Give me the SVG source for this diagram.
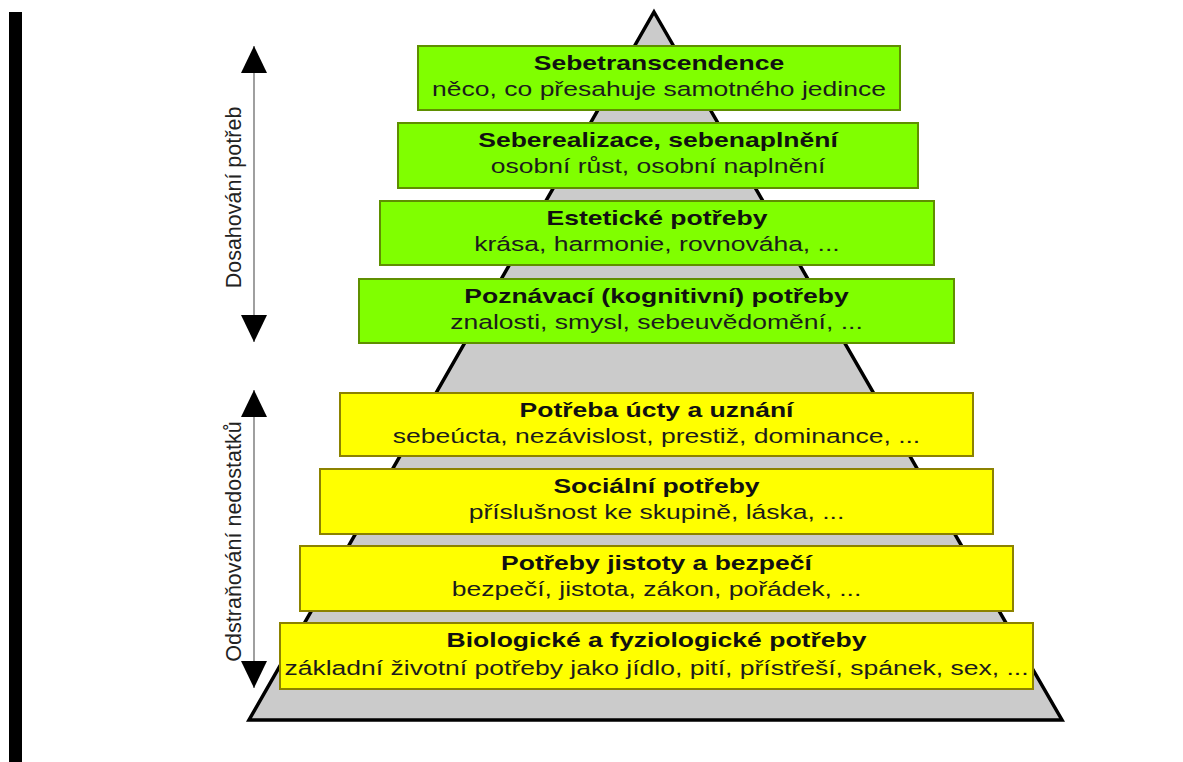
<svg xmlns="http://www.w3.org/2000/svg" width="1183" height="762" viewBox="0 0 1183 762">
<style>
.t{font-family:"Liberation Sans",Arial,sans-serif;font-weight:bold;font-size:19.5px;fill:#111;text-anchor:middle}
.s{font-family:"Liberation Sans",Arial,sans-serif;font-size:19.5px;fill:#1c1c1c;text-anchor:middle}
.g{fill:#80ff00;stroke:#5f8f00;stroke-width:2}
.y{fill:#ffff00;stroke:#8c8200;stroke-width:2}
.lbl{font-family:"Liberation Sans",Arial,sans-serif;font-size:21.5px;fill:#222;text-anchor:middle}
.ax{stroke:#888;stroke-width:1.6;fill:none}
</style>
<defs>
<marker id="ah" markerWidth="28" markerHeight="26" refX="27" refY="13" orient="auto-start-reverse" markerUnits="userSpaceOnUse">
<path d="M0,0 L27,13 L0,26 Z" fill="#000"/>
</marker>
</defs>
<rect width="1183" height="762" fill="#fff"/>
<rect x="9" y="12" width="13" height="750" fill="#000"/>
<g id="pyramid">
<polygon points="654,12 1062,720 249,720" fill="#cbcbcb" stroke="#000" stroke-width="3.5" stroke-linejoin="miter"/>
</g>
<g id="connectors">
<line class="ax" x1="254" y1="46" x2="254" y2="342" marker-start="url(#ah)" marker-end="url(#ah)"/>
<line class="ax" x1="254" y1="390" x2="254" y2="688" marker-start="url(#ah)" marker-end="url(#ah)"/>
<text class="lbl" transform="translate(241,197.5) rotate(-90)">Dosahování potřeb</text>
<text class="lbl" transform="translate(241,541.5) rotate(-90)">Odstraňování nedostatků</text>
</g>
<g id="n1">
<rect class="g" x="418" y="46" width="482" height="64"/>
<g transform="translate(659,0) scale(1.36,1)">
<text class="t" x="0" y="70">Sebetranscendence</text>
<text class="s" x="0" y="96">něco, co přesahuje samotného jedince</text>
</g>
</g>
<g id="n2">
<rect class="g" x="398" y="123" width="520" height="65"/>
<g transform="translate(658,0) scale(1.36,1)">
<text class="t" x="0" y="147">Seberealizace, sebenaplnění</text>
<text class="s" x="0" y="173">osobní růst, osobní naplnění</text>
</g>
</g>
<g id="n3">
<rect class="g" x="380" y="201" width="554" height="64"/>
<g transform="translate(657,0) scale(1.36,1)">
<text class="t" x="0" y="225">Estetické potřeby</text>
<text class="s" x="0" y="251">krása, harmonie, rovnováha, ...</text>
</g>
</g>
<g id="n4">
<rect class="g" x="359" y="279" width="595" height="64"/>
<g transform="translate(656.5,0) scale(1.36,1)">
<text class="t" x="0" y="303">Poznávací (kognitivní) potřeby</text>
<text class="s" x="0" y="329">znalosti, smysl, sebeuvědomění, ...</text>
</g>
</g>
<g id="n5">
<rect class="y" x="340" y="393" width="633" height="63"/>
<g transform="translate(656.5,0) scale(1.36,1)">
<text class="t" x="0" y="417">Potřeba úcty a uznání</text>
<text class="s" x="0" y="443">sebeúcta, nezávislost, prestiž, dominance, ...</text>
</g>
</g>
<g id="n6">
<rect class="y" x="320" y="469" width="673" height="65"/>
<g transform="translate(656.5,0) scale(1.36,1)">
<text class="t" x="0" y="493">Sociální potřeby</text>
<text class="s" x="0" y="519">příslušnost ke skupině, láska, ...</text>
</g>
</g>
<g id="n7">
<rect class="y" x="300" y="546" width="713" height="65"/>
<g transform="translate(656.5,0) scale(1.36,1)">
<text class="t" x="0" y="570">Potřeby jistoty a bezpečí</text>
<text class="s" x="0" y="596">bezpečí, jistota, zákon, pořádek, ...</text>
</g>
</g>
<g id="n8">
<rect class="y" x="280" y="623" width="753" height="66"/>
<g transform="translate(656.5,0) scale(1.36,1)">
<text class="t" x="0" y="647">Biologické a fyziologické potřeby</text>
<text class="s" x="0" y="675">základní životní potřeby jako jídlo, pití, přístřeší, spánek, sex, ...</text>
</g>
</g>
</svg>
